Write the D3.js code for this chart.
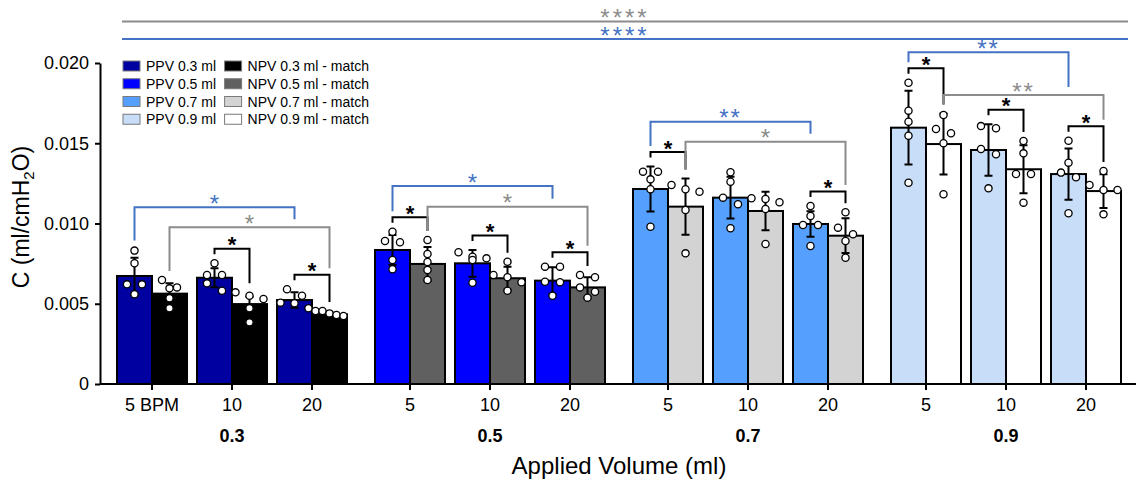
<!DOCTYPE html>
<html><head><meta charset="utf-8">
<script src="https://cdn.jsdelivr.net/npm/d3@7"></script>
<style>body{margin:0;background:#fff} text{font-family:"Liberation Sans",Arial,sans-serif}</style>
</head><body><svg id="c" width="1139" height="484"></svg>
<script>
// ---------- data ----------
const volumes = ["0.3", "0.5", "0.7", "0.9"];
const rates = ["5", "10", "20"];
const tickLabels = [["5 BPM", "10", "20"], ["5", "10", "20"], ["5", "10", "20"], ["5", "10", "20"]];
const series = ["PPV", "NPV"];
const ppvLegend = ["PPV 0.3 ml", "PPV 0.5 ml", "PPV 0.7 ml", "PPV 0.9 ml"];
const npvLegend = ["NPV 0.3 ml - match", "NPV 0.5 ml - match", "NPV 0.7 ml - match", "NPV 0.9 ml - match"];
const ppvColors = ["#0000a0", "#0000ff", "#55a0ff", "#c8ddf8"];
const npvColors = ["#000000", "#606060", "#d3d3d3", "#ffffff"];

const ppvMean = [[0.00673, 0.00662, 0.00523], [0.00835, 0.00752, 0.00644], [0.01215, 0.01161, 0.00997], [0.01597, 0.01458, 0.01308]];
const ppvSD   = [[0.00114, 0.00059, 0.00048], [0.00093, 0.00083, 0.00083], [0.00140, 0.00130, 0.00080], [0.00230, 0.00160, 0.00160]];
const npvMean = [[0.00563, 0.00498, 0.00434], [0.00748, 0.00659, 0.00602], [0.01105, 0.01078, 0.00924], [0.01495, 0.01338, 0.01202]];
const npvSD   = [[0.00064, 0.00046, 0.00013], [0.00105, 0.00072, 0.00063], [0.00175, 0.00120, 0.00108], [0.00190, 0.00150, 0.00105]];

const ppvPoints = [
  [[0.00831, 0.00752, 0.00621, 0.00621, 0.00559], [0.00752, 0.00679, 0.00679, 0.00627, 0.00581], [0.00590, 0.00550, 0.00507, 0.00503, 0.00472]],
  [[0.00949, 0.00891, 0.00883, 0.00773, 0.00715], [0.00821, 0.00793, 0.00783, 0.00773, 0.00631], [0.00731, 0.00731, 0.00637, 0.00634, 0.00550]],
  [[0.01323, 0.01323, 0.01275, 0.01213, 0.00980], [0.01319, 0.01260, 0.01161, 0.01120, 0.00970], [0.01109, 0.01047, 0.00991, 0.00991, 0.00860]],
  [[0.01877, 0.01703, 0.01634, 0.01547, 0.01254], [0.01607, 0.01593, 0.01464, 0.01431, 0.01219], [0.01516, 0.01379, 0.01317, 0.01288, 0.01064]]
];
const npvPoints = [
  [[0.00648, 0.00602, 0.00596, 0.00534, 0.00472], [0.00571, 0.00550, 0.00530, 0.00472, 0.00384], [0.00455, 0.00455, 0.00440, 0.00430, 0.00424]],
  [[0.00897, 0.00810, 0.00760, 0.00710, 0.00648], [0.00762, 0.00679, 0.00665, 0.00634, 0.00581], [0.00679, 0.00665, 0.00602, 0.00575, 0.00538]],
  [[0.01240, 0.01213, 0.01198, 0.01084, 0.00814], [0.01157, 0.01153, 0.01132, 0.01090, 0.00872], [0.01070, 0.00974, 0.00933, 0.00891, 0.00787]],
  [[0.01676, 0.01589, 0.01562, 0.01500, 0.01182], [0.01514, 0.01437, 0.01308, 0.01308, 0.01130], [0.01327, 0.01240, 0.01209, 0.01209, 0.01057]]
];

// significance: PPV vs NPV at same volume & rate  [volumeIndex, rateIndex, label]
const pairSig = [[0, 1, "*"], [0, 2, "*"], [1, 0, "*"], [1, 1, "*"], [1, 2, "*"], [2, 0, "*"], [2, 2, "*"], [3, 0, "*"], [3, 1, "*"], [3, 2, "*"]];
// 5 vs 20 BPM within a volume (annotation level in C units)
const ppvRateSig = ["*", "*", "**", "**"];
const ppvRateSigLevel = [0.01101, 0.01234, 0.01634, 0.02067];
const npvRateSig = ["*", "*", "*", "**"];
const npvRateSigLevel = [0.00976, 0.01105, 0.01510, 0.01801];
// across volumes
const volumeSigLabels = ["****", "****"];
const volumeSigSeries = ["NPV", "PPV"];
const volumeSigLevel = [0.02259, 0.02150];

const yTicks = [0, 0.005, 0.010, 0.015, 0.020];

// ---------- drawing ----------
const svg = d3.select("#c");
const sigBlue = "#4472c4", sigGray = "#8c8c8c";
const y = d3.scaleLinear().domain([0, 0.02]).range([384, 63]);
const xGroup = d3.scaleBand().domain(volumes).range([103, 1135]);
const xRate = d3.scaleBand().domain(rates).range([14, 244]).paddingInner(0.125);
const xSeries = d3.scaleBand().domain(series).range([0, xRate.bandwidth()]);
const bw = xSeries.bandwidth();

const recs = [];
volumes.forEach((v, vi) => rates.forEach((r, ri) => series.forEach(s => {
  const isP = s === "PPV";
  recs.push({vi, ri, s,
    mean: (isP ? ppvMean : npvMean)[vi][ri],
    sd: (isP ? ppvSD : npvSD)[vi][ri],
    pts: (isP ? ppvPoints : npvPoints)[vi][ri],
    color: (isP ? ppvColors : npvColors)[vi],
    x: xGroup(v) + xRate(r) + xSeries(s)});
})));
const rec = (vi, ri, s) => recs.find(d => d.vi === vi && d.ri === ri && d.s === s);
const cx = d => d.x + bw / 2;
const dotTop = d => y(Math.max(d.mean + d.sd, d3.max(d.pts))) - 4;

// bars
svg.append("g").selectAll("rect").data(recs).join("rect")
  .attr("x", d => d.x).attr("width", bw)
  .attr("y", d => y(d.mean)).attr("height", d => y(0) - y(d.mean))
  .attr("fill", d => d.color).attr("stroke", "#000").attr("stroke-width", 2);

// error bars
const eb = svg.append("g").attr("stroke", "#000").attr("stroke-width", 2).attr("fill", "none");
recs.forEach(d => {
  const c = cx(d), t = y(d.mean + d.sd), b = y(d.mean - d.sd);
  eb.append("path").attr("d", `M${c},${b}V${t}M${c - 4},${t}H${c + 4}M${c - 4},${b}H${c + 4}`);
});

// dots (row-based swarm)
function swarm(d) {
  const ys = d.pts.map(p => y(p)).sort((a, b) => a - b);
  const rows = [];
  ys.forEach(v => {
    const last = rows[rows.length - 1];
    if (last && v - last[0] < 7.5) last.push(v); else rows.push([v]);
  });
  const out = [];
  rows.forEach(row => {
    const k = row.length, sp = k === 1 ? 0 : Math.min(15, 28 / (k - 1));
    row.forEach((v, i) => out.push({x: cx(d) + (i - (k - 1) / 2) * sp, y: v}));
  });
  return out;
}
const dots = svg.append("g");
recs.forEach(d => {
  dots.selectAll(null).data(swarm(d)).join("circle")
    .attr("cx", p => p.x).attr("cy", p => p.y).attr("r", 3.6)
    .attr("fill", "#fff").attr("stroke", "#000").attr("stroke-width", 1.3);
});

// axes
const yAxis = svg.append("g").attr("transform", "translate(100,0)")
  .call(d3.axisLeft(y).tickValues(yTicks).tickFormat(d => d === 0 ? "0" : d.toFixed(3)).tickSize(5).tickSizeOuter(0).tickPadding(6));
yAxis.selectAll("text").attr("font-size", 18).attr("fill", "#000").style("font-family", '"Liberation Sans",Arial,sans-serif');
yAxis.selectAll("line,path").attr("stroke", "#000").attr("stroke-width", 2);

svg.append("line").attr("x1", 100).attr("x2", xGroup.range()[1] + 1).attr("y1", y(0)).attr("y2", y(0))
  .attr("stroke", "#000").attr("stroke-width", 2);

volumes.forEach((v, vi) => {
  const g = svg.append("g").attr("transform", `translate(${xGroup(v)},${y(0)})`)
    .call(d3.axisBottom(xRate).tickSize(6).tickSizeOuter(0).tickPadding(8).tickFormat((d, i) => tickLabels[vi][i]));
  g.select(".domain").remove();
  g.selectAll("line").attr("stroke", "#000").attr("stroke-width", 2);
  g.selectAll("text").attr("font-size", 18).attr("fill", "#000").style("font-family", '"Liberation Sans",Arial,sans-serif');
  svg.append("text").attr("x", xGroup(v) + xGroup.bandwidth() / 2).attr("y", 442)
    .attr("text-anchor", "middle").attr("font-size", 18).attr("font-weight", "bold").text(v);
});

svg.append("text").attr("x", (xGroup.range()[0] + xGroup.range()[1]) / 2 + 0).attr("y", 474)
  .attr("text-anchor", "middle").attr("font-size", 24).text("Applied Volume (ml)");

const yt = svg.append("text").attr("transform", "translate(29,217) rotate(-90)")
  .attr("text-anchor", "middle").attr("font-size", 23);
yt.append("tspan").text("C (ml/cmH");
yt.append("tspan").attr("font-size", 15).attr("dy", 5).text("2");
yt.append("tspan").attr("dy", -5).text("O)");

// legend
const leg = svg.append("g");
[ppvLegend, npvLegend].forEach((labels, col) => {
  const colors = col === 0 ? ppvColors : npvColors;
  labels.forEach((lab, i) => {
    const gx = 123 + col * 101.6, gy = 66 + i * 17.75;
    leg.append("rect").attr("x", gx).attr("y", gy - 5).attr("width", 17).attr("height", 10)
      .attr("fill", colors[i]).attr("stroke", "#7a7a7a").attr("stroke-width", 1);
    leg.append("text").attr("x", gx + 23).attr("y", gy).attr("dy", "0.36em").attr("font-size", 14).text(lab);
  });
});

// brackets
const br = svg.append("g").attr("fill", "none");
function starText(x, lineY, label, color, size, bold, spacing) {
  svg.append("text").attr("x", x).attr("y", lineY + 0.57 * size - 9).attr("text-anchor", "middle")
    .attr("font-size", size).attr("font-weight", bold ? "bold" : "normal")
    .attr("letter-spacing", spacing).attr("fill", color).text(label);
}
function bracket(x1, x2, yTop, yB1, yB2, color, label, bold) {
  br.append("path").attr("d", `M${x1},${yB1}V${yTop}H${x2}V${yB2}`)
    .attr("stroke", color).attr("stroke-width", 2);
  starText((x1 + x2) / 2, yTop, label, color, bold ? 22 : 24, bold, label.length > 1 ? 2 : 0);
}
const blackTop = {};
pairSig.forEach(([vi, ri, lab]) => {
  const P = rec(vi, ri, "PPV"), N = rec(vi, ri, "NPV");
  const b1 = dotTop(P) - 5, b2 = dotTop(N) - 5, t = Math.min(b1, b2) - 5.5;
  blackTop[vi + "_" + ri] = t;
  bracket(cx(P), cx(N), t, b1, b2, "#000", lab, true);
});
volumes.forEach((v, vi) => {
  const N5 = rec(vi, 0, "NPV"), N20 = rec(vi, 2, "NPV");
  const gTop = y(npvRateSigLevel[vi]);
  const bt20 = blackTop[vi + "_2"];
  bracket(cx(N5), cx(N20), gTop, dotTop(N5) - 5, bt20 !== undefined ? bt20 - 6.5 : dotTop(N20) - 5, sigGray, npvRateSig[vi], false);
  const P5 = rec(vi, 0, "PPV"), P20 = rec(vi, 2, "PPV");
  const bt5 = blackTop[vi + "_0"];
  bracket(cx(P5), cx(P20), y(ppvRateSigLevel[vi]), bt5 !== undefined ? bt5 - 6 : dotTop(P5) - 6, gTop - 8, sigBlue, ppvRateSig[vi], false);
});
// across-volume lines
const xl0 = recs[0].x + 5, xl1 = recs[recs.length - 1].x + bw + 7;
volumeSigLabels.forEach((lab, i) => {
  const col = volumeSigSeries[i] === "PPV" ? sigBlue : sigGray;
  const ly = y(volumeSigLevel[i]);
  svg.append("line").attr("x1", xl0).attr("x2", xl1).attr("y1", ly).attr("y2", ly).attr("stroke", col).attr("stroke-width", 2);
  starText((xl0 + xl1) / 2, ly, lab, col, 24, false, 3);
});
</script></body></html>
